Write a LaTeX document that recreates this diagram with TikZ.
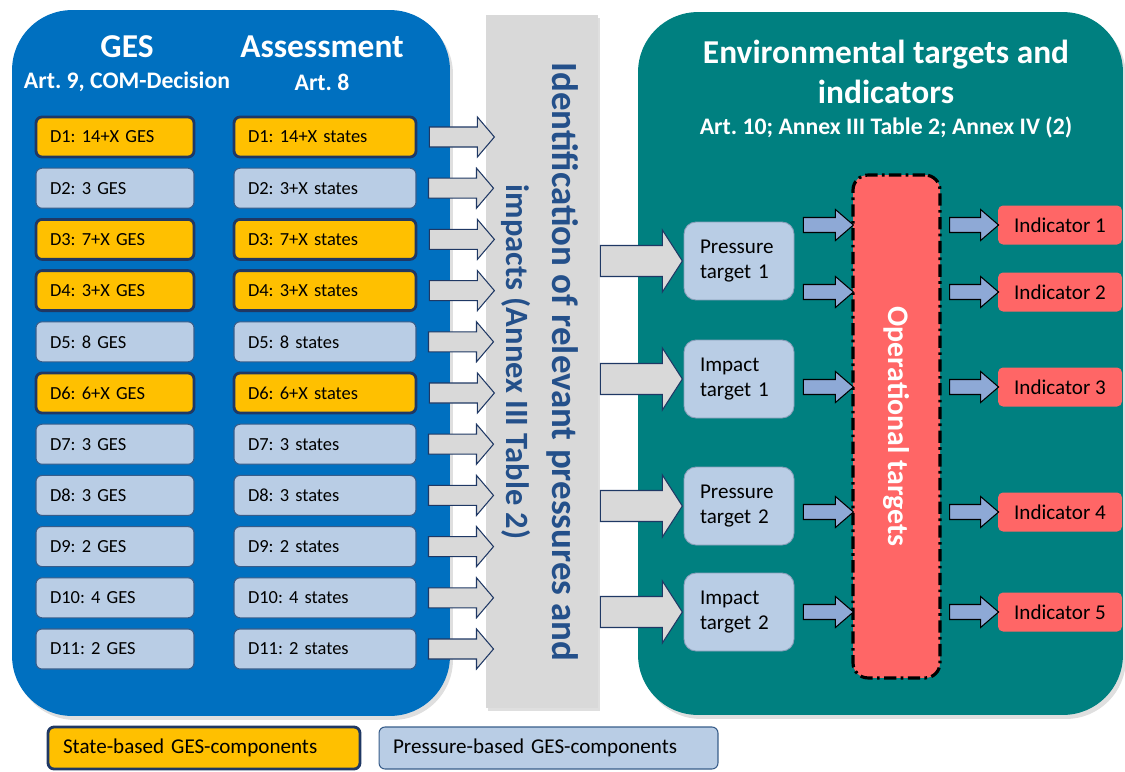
\documentclass[tikz,border=0pt]{standalone}
\usepackage{fontspec}
\setmainfont{Carlito}
\frenchspacing
\usetikzlibrary{positioning,shadows}
\definecolor{gesblue}{HTML}{0070C0}
\definecolor{envteal}{HTML}{008080}
\definecolor{bargray}{HTML}{D9D9D9}
\definecolor{stateorange}{HTML}{FFC000}
\definecolor{pressblue}{HTML}{B9CDE5}
\definecolor{navy}{HTML}{1F3864}
\definecolor{pressline}{HTML}{385D8A}
\definecolor{smallarrow}{HTML}{8EA9D6}
\definecolor{opred}{HTML}{FF6666}
\definecolor{bartext}{HTML}{24508A}
\begin{document}
\begin{tikzpicture}[x=0.02cm,y=-0.02cm]
	\tikzstyle{panel}=[rounded corners=1.2cm,inner sep=0pt,drop shadow={opacity=0.25,shadow xshift=0.06cm,shadow yshift=-0.08cm}]
	\tikzstyle{gesbox}=[rounded corners=0.12cm,minimum height=0.8cm,inner xsep=0.28cm,align=left,font=\fontsize{10.5}{12}\selectfont]
	\tikzstyle{statebox}=[gesbox,fill=stateorange,draw=navy,line width=1.6pt]
	\tikzstyle{pressbox}=[gesbox,fill=pressblue,draw=pressline,line width=0.6pt]
	\tikzstyle{title}=[text=white,font=\fontsize{19}{23}\selectfont\bfseries,align=center]
	\tikzstyle{subtitle}=[text=white,font=\fontsize{13.5}{15}\selectfont\bfseries]
	\tikzstyle{target}=[rounded corners=0.24cm,fill=pressblue,draw=pressline!60,line width=0.5pt,minimum height=1.56cm,text width=1.56cm,inner xsep=0.32cm,align=left,font=\fontsize{12}{14.5}\selectfont]
	\tikzstyle{indicator}=[rounded corners=0.1cm,fill=opred,minimum width=2.48cm,minimum height=0.78cm,font=\fontsize{12}{14}\selectfont]
	\tikzstyle{bigarrow}=[draw=navy,fill=bargray,line width=0.6pt]
	\tikzstyle{smallarr}=[draw=black,fill=smallarrow,line width=0.6pt]
	\tikzset{pics/blockarr/.style n args={4}{code={%
		\path[pic actions] (0,-#2) -- (#1-#4,-#2) -- (#1-#4,-#3) -- (#1,0) -- (#1-#4,#3) -- (#1-#4,#2) -- (0,#2) -- cycle;}}}
	\useasboundingbox (0,0) rectangle (1125,771);
	% panels
	\node[panel,fill=gesblue,minimum width=8.76cm,minimum height=14.12cm] (ges-panel) at (231,363) {};
	\node[panel,fill=envteal,minimum width=9.7cm,minimum height=14.06cm] (env-panel) at (880.5,363.5) {};
	\node[fill=bargray,minimum width=2.24cm,minimum height=13.86cm,inner sep=0pt,drop shadow={opacity=0.25,shadow xshift=0.04cm,shadow yshift=-0.06cm}] (id-bar) at (542,361.5) {};
	\node[rotate=-90,text=bartext,align=center,font=\fontsize{21}{26}\selectfont\bfseries] (id-text) at (540,362) {Identification of relevant pressures and\\{\fontsize{18.5}{22}\selectfont impacts (Annex III Table 2)}};
	% headings
	\node[title] (ges-title) at (127,47) {GES};
	\node[subtitle] (ges-sub) at (127,82) {Art. 9, COM-Decision};
	\node[title] (ass-title) at (322,47) {Assessment};
	\node[subtitle] (ass-sub) at (322,82) {Art. 8};
	\node[title] (env-title) at (886,72) {Environmental targets and\\indicators};
	\node[subtitle] (env-sub) at (886,127) {Art. 10; Annex III Table 2; Annex IV (2)};
	% descriptors
	\foreach \i/\g/\s/\k in {1/14+X GES/14+X states/statebox,2/3 GES/3+X states/pressbox,3/7+X GES/7+X states/statebox,4/3+X GES/3+X states/statebox,5/8 GES/8 states/pressbox,6/6+X GES/6+X states/statebox,7/3 GES/3 states/pressbox,8/3 GES/3 states/pressbox,9/2 GES/2 states/pressbox,10/4 GES/4 states/pressbox,11/2 GES/2 states/pressbox} {
		\node[\k,text width=2.6cm] (ges-\i) at (115,{137+51.2*(\i-1)}) {D\i: \g};
		\node[\k,text width=3.08cm] (ass-\i) at (325,{137+51.2*(\i-1)}) {D\i: \s};
		\path (ass-\i.east) ++(12,0) pic[bigarrow] {blockarr={65}{10}{20}{17}};
	}
	% targets
	\node[target] (P-target-1) at (739,261) {Pressure\\target 1};
	\node[target] (I-target-1) at (739,379) {Impact\\target 1};
	\node[target] (P-target-2) at (739,506) {Pressure\\target 2};
	\node[target] (I-target-2) at (739,612) {Impact\\target 2};
	\foreach \t in {P-target-1,I-target-1,P-target-2,I-target-2}
		\path (id-bar.east |- \t.west) ++(2,0) pic[bigarrow] {blockarr={82}{15.5}{31}{20}};
	% operational targets
	\node[fill=opred,draw=black,line width=1.8pt,dash pattern=on 7pt off 2.5pt on 1.5pt off 2.5pt,rounded corners=0.3cm,minimum width=1.74cm,minimum height=10.06cm] (op-targets) at (896.5,426.5) {};
	\node[rotate=-90,text=white,font=\fontsize{17}{20}\selectfont\bfseries] (op-text) at (op-targets.center) {Operational targets};
	% indicators
	\foreach \j/\y in {1/225,2/292,3/387,4/512,5/612} {
		\node[indicator] (ind-\j) at (1060,\y) {Indicator \j};
		\path (op-targets.east |- ind-\j.west) ++(8,0) pic[smallarr] {blockarr={49}{7.5}{15.5}{18}};
	}
	\path (P-target-1.east |- ind-1.west) ++(9,0) pic[smallarr] {blockarr={50}{7.5}{15.5}{18}};
	\path (P-target-1.east |- ind-2.west) ++(9,0) pic[smallarr] {blockarr={50}{7.5}{15.5}{18}};
	\path (I-target-1.east |- ind-3.west) ++(9,0) pic[smallarr] {blockarr={50}{7.5}{15.5}{18}};
	\path (P-target-2.east |- ind-4.west) ++(9,0) pic[smallarr] {blockarr={50}{7.5}{15.5}{18}};
	\path (I-target-2.east |- ind-5.west) ++(9,0) pic[smallarr] {blockarr={50}{7.5}{15.5}{18}};
	% legend
	\node[statebox,minimum height=0.84cm,text width=5.64cm,inner xsep=0.3cm,font=\fontsize{12}{14}\selectfont] (legend-state) at (204,748) {State-based GES-components};
	\node[pressbox,minimum height=0.84cm,text width=6.22cm,inner xsep=0.28cm,font=\fontsize{12}{14}\selectfont] (legend-press) at (548.5,748) {Pressure-based GES-components};
\end{tikzpicture}
\end{document}
